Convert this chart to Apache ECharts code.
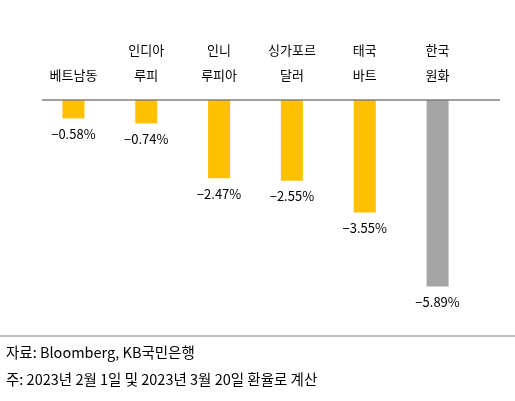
<!DOCTYPE html>
<html><head><meta charset="utf-8">
<script src="https://cdn.jsdelivr.net/npm/echarts@6/dist/echarts.min.js"></script>
<style>body{margin:0}#c{width:515px;height:401px}</style></head>
<body><div id="c"></div>
<script>
var categories = ['베트남동', '인디아\n루피', '인니\n루피아', '싱가포르\n달러', '태국\n바트', '한국\n원화'];
var values = [-0.58, -0.74, -2.47, -2.55, -3.55, -5.89];
var colors = ['#FFC000', '#FFC000', '#FFC000', '#FFC000', '#FFC000', '#A5A5A5'];
var font = '"Noto Sans CJK KR", sans-serif';
var chart = echarts.init(document.getElementById('c'));
chart.setOption({
  animation: false,
  grid: { left: 37, right: 41, top: 100, bottom: 111 },
  xAxis: {
    type: 'category', position: 'top', data: categories,
    axisLine: { show: false },
    axisTick: { show: false },
    axisLabel: { color: '#000', fontFamily: font, fontSize: 13, lineHeight: 25, margin: 12 }
  },
  yAxis: { type: 'value', min: -6, max: 0, show: false },
  series: [{
    type: 'bar', barWidth: 22,
    data: values.map(function (v, i) { return { value: v, itemStyle: { color: colors[i] } }; }),
    label: {
      show: true, position: 'bottom', distance: 9, color: '#000', fontFamily: font, fontSize: 13,
      formatter: function (p) { return '\u2212' + Math.abs(p.value).toFixed(2) + '%'; }
    }
  }],
  graphic: [
    { type: 'line', z: 10, shape: { x1: 42, y1: 100, x2: 500, y2: 100 }, style: { stroke: '#7f7f7f', lineWidth: 1.5 } },
    { type: 'line', shape: { x1: 0, y1: 336, x2: 515, y2: 336 }, style: { stroke: '#7f7f7f', lineWidth: 1 } },
    { type: 'text', left: 6, top: 345, style: { text: '자료: Bloomberg, KB국민은행', font: '14.5px ' + font, fill: '#000' } },
    { type: 'text', left: 6, top: 372, style: { text: '주: 2023년 2월 1일 및 2023년 3월 20일 환율로 계산', font: '14.5px ' + font, fill: '#000' } }
  ]
});
</script></body></html>
